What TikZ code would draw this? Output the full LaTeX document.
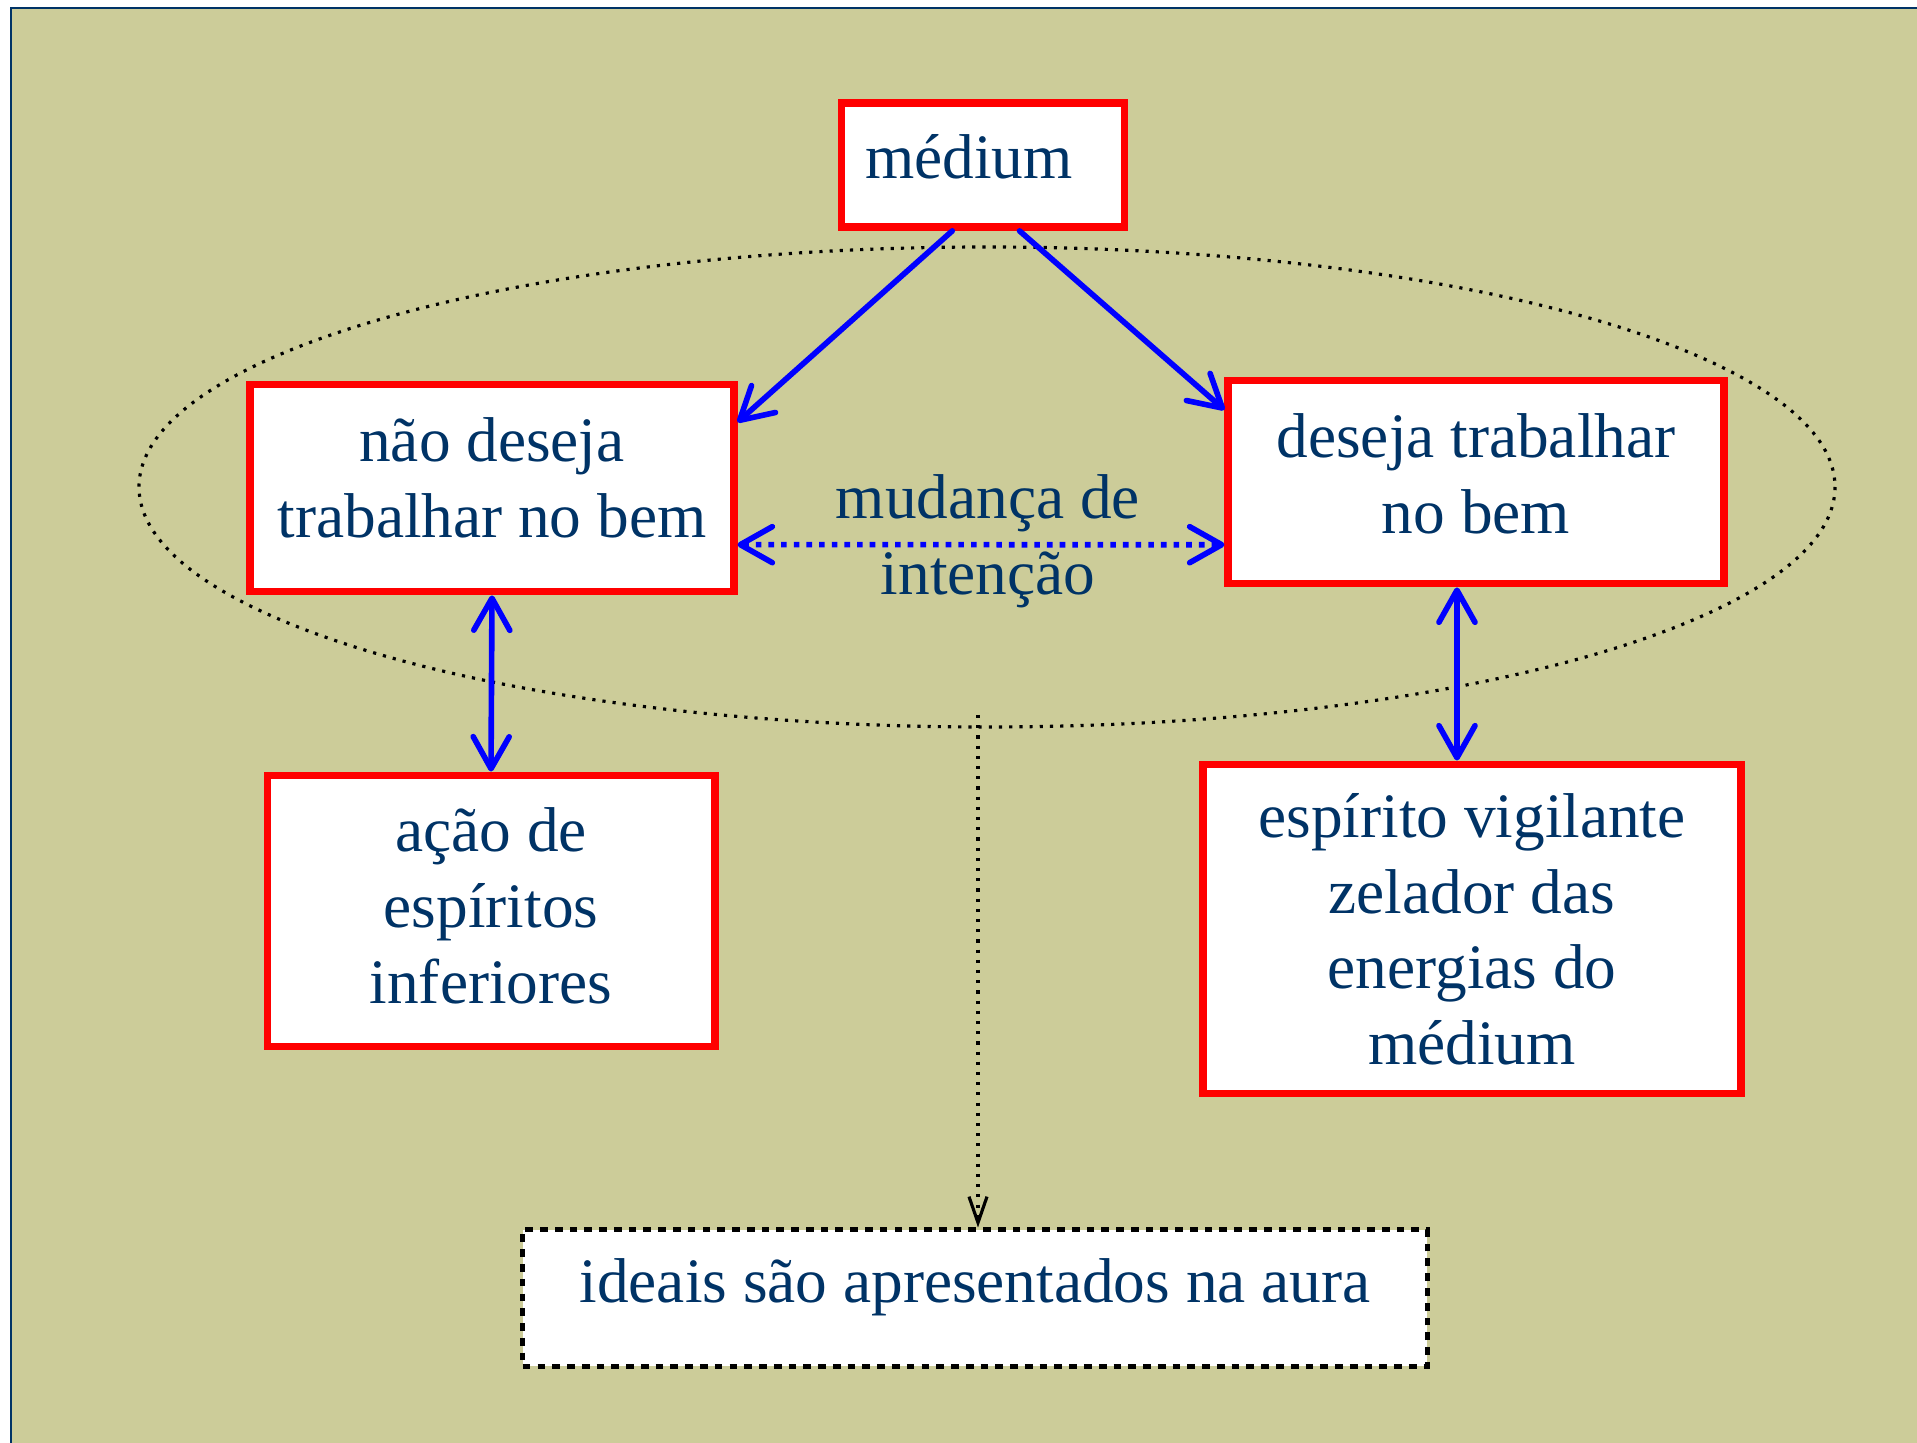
\documentclass[tikz,border=0pt]{standalone}
\usepackage{fontspec}
\setmainfont{Liberation Serif}
\usetikzlibrary{arrows.meta}
\definecolor{fundo}{RGB}{204,204,153}
\definecolor{textoazul}{RGB}{0,51,102}
\begin{document}
\begin{tikzpicture}[x=0.01cm, y=-0.01cm,
  caixa/.style={draw=red, line width=2.2pt, fill=white, text=textoazul, align=center,
    font=\fontsize{18}{21.6}\selectfont, inner sep=0pt},
  seta/.style={blue, line width=1.6pt, line cap=round, -{Straight Barb[length=3.2mm,width=3.6mm,round]}},
  setadupla/.style={blue, line width=1.6pt, line cap=round,
    {Straight Barb[length=3.2mm,width=3.6mm,round]}-{Straight Barb[length=3.2mm,width=3.6mm,round]}}]
\useasboundingbox (0,0) rectangle (1917,1443);
\draw[textoazul, fill=fundo] (11,8) rectangle (1940,1470);

\draw[dotted, line width=0.9pt] (987,487) ellipse (848 and 240);

\node[caixa, minimum width=2.83cm, minimum height=1.24cm, text depth=0.17cm] (medium) at (983,165) {médium\hspace{0.28cm}};
\node[caixa, minimum width=4.83cm, minimum height=2.07cm, text depth=0.2cm] (nao) at (492,488) {não deseja\\trabalhar no bem};
\node[caixa, minimum width=4.95cm, minimum height=2.03cm, text depth=0.17cm] (deseja) at (1476,482) {deseja trabalhar\\no bem};
\node[caixa, minimum width=4.47cm, minimum height=2.71cm, text depth=0.1cm] (acao) at (491,911) {ação de\\espíritos\\inferiores};
\node[caixa, minimum width=5.38cm, minimum height=3.29cm, text depth=-0.1cm] (espirito) at (1472,929) {espírito vigilante\\zelador das\\energias do\\médium};
\node[caixa, draw=black, dotted, line width=1.4pt, minimum width=9.04cm, minimum height=1.36cm,
  text depth=0.35cm] (ideais) at (975,1298) {ideais são apresentados na aura};
\node[text=textoazul, align=center, font=\fontsize{18}{21.6}\selectfont] (mudanca) at (988,541) {mudança de\\intenção};

\draw[seta] (medium.-115) -- (nao.15);
\draw[seta] (medium.-61) -- (deseja.164);
\draw[setadupla] (nao.south) -- (acao.north);
\draw[setadupla] ([xshift=-0.19cm]deseja.south) -- ([xshift=-0.19cm]deseja.south |- espirito.north);
\draw[setadupla, line cap=butt, dotted] (nao.-13) -- (deseja.-166);

\coordinate (aura) at (978,715);
\draw[dotted, line width=0.9pt, -{Straight Barb[length=2.6mm,width=1.8mm]}] (aura) -- (aura |- ideais.north);
\end{tikzpicture}
\end{document}
